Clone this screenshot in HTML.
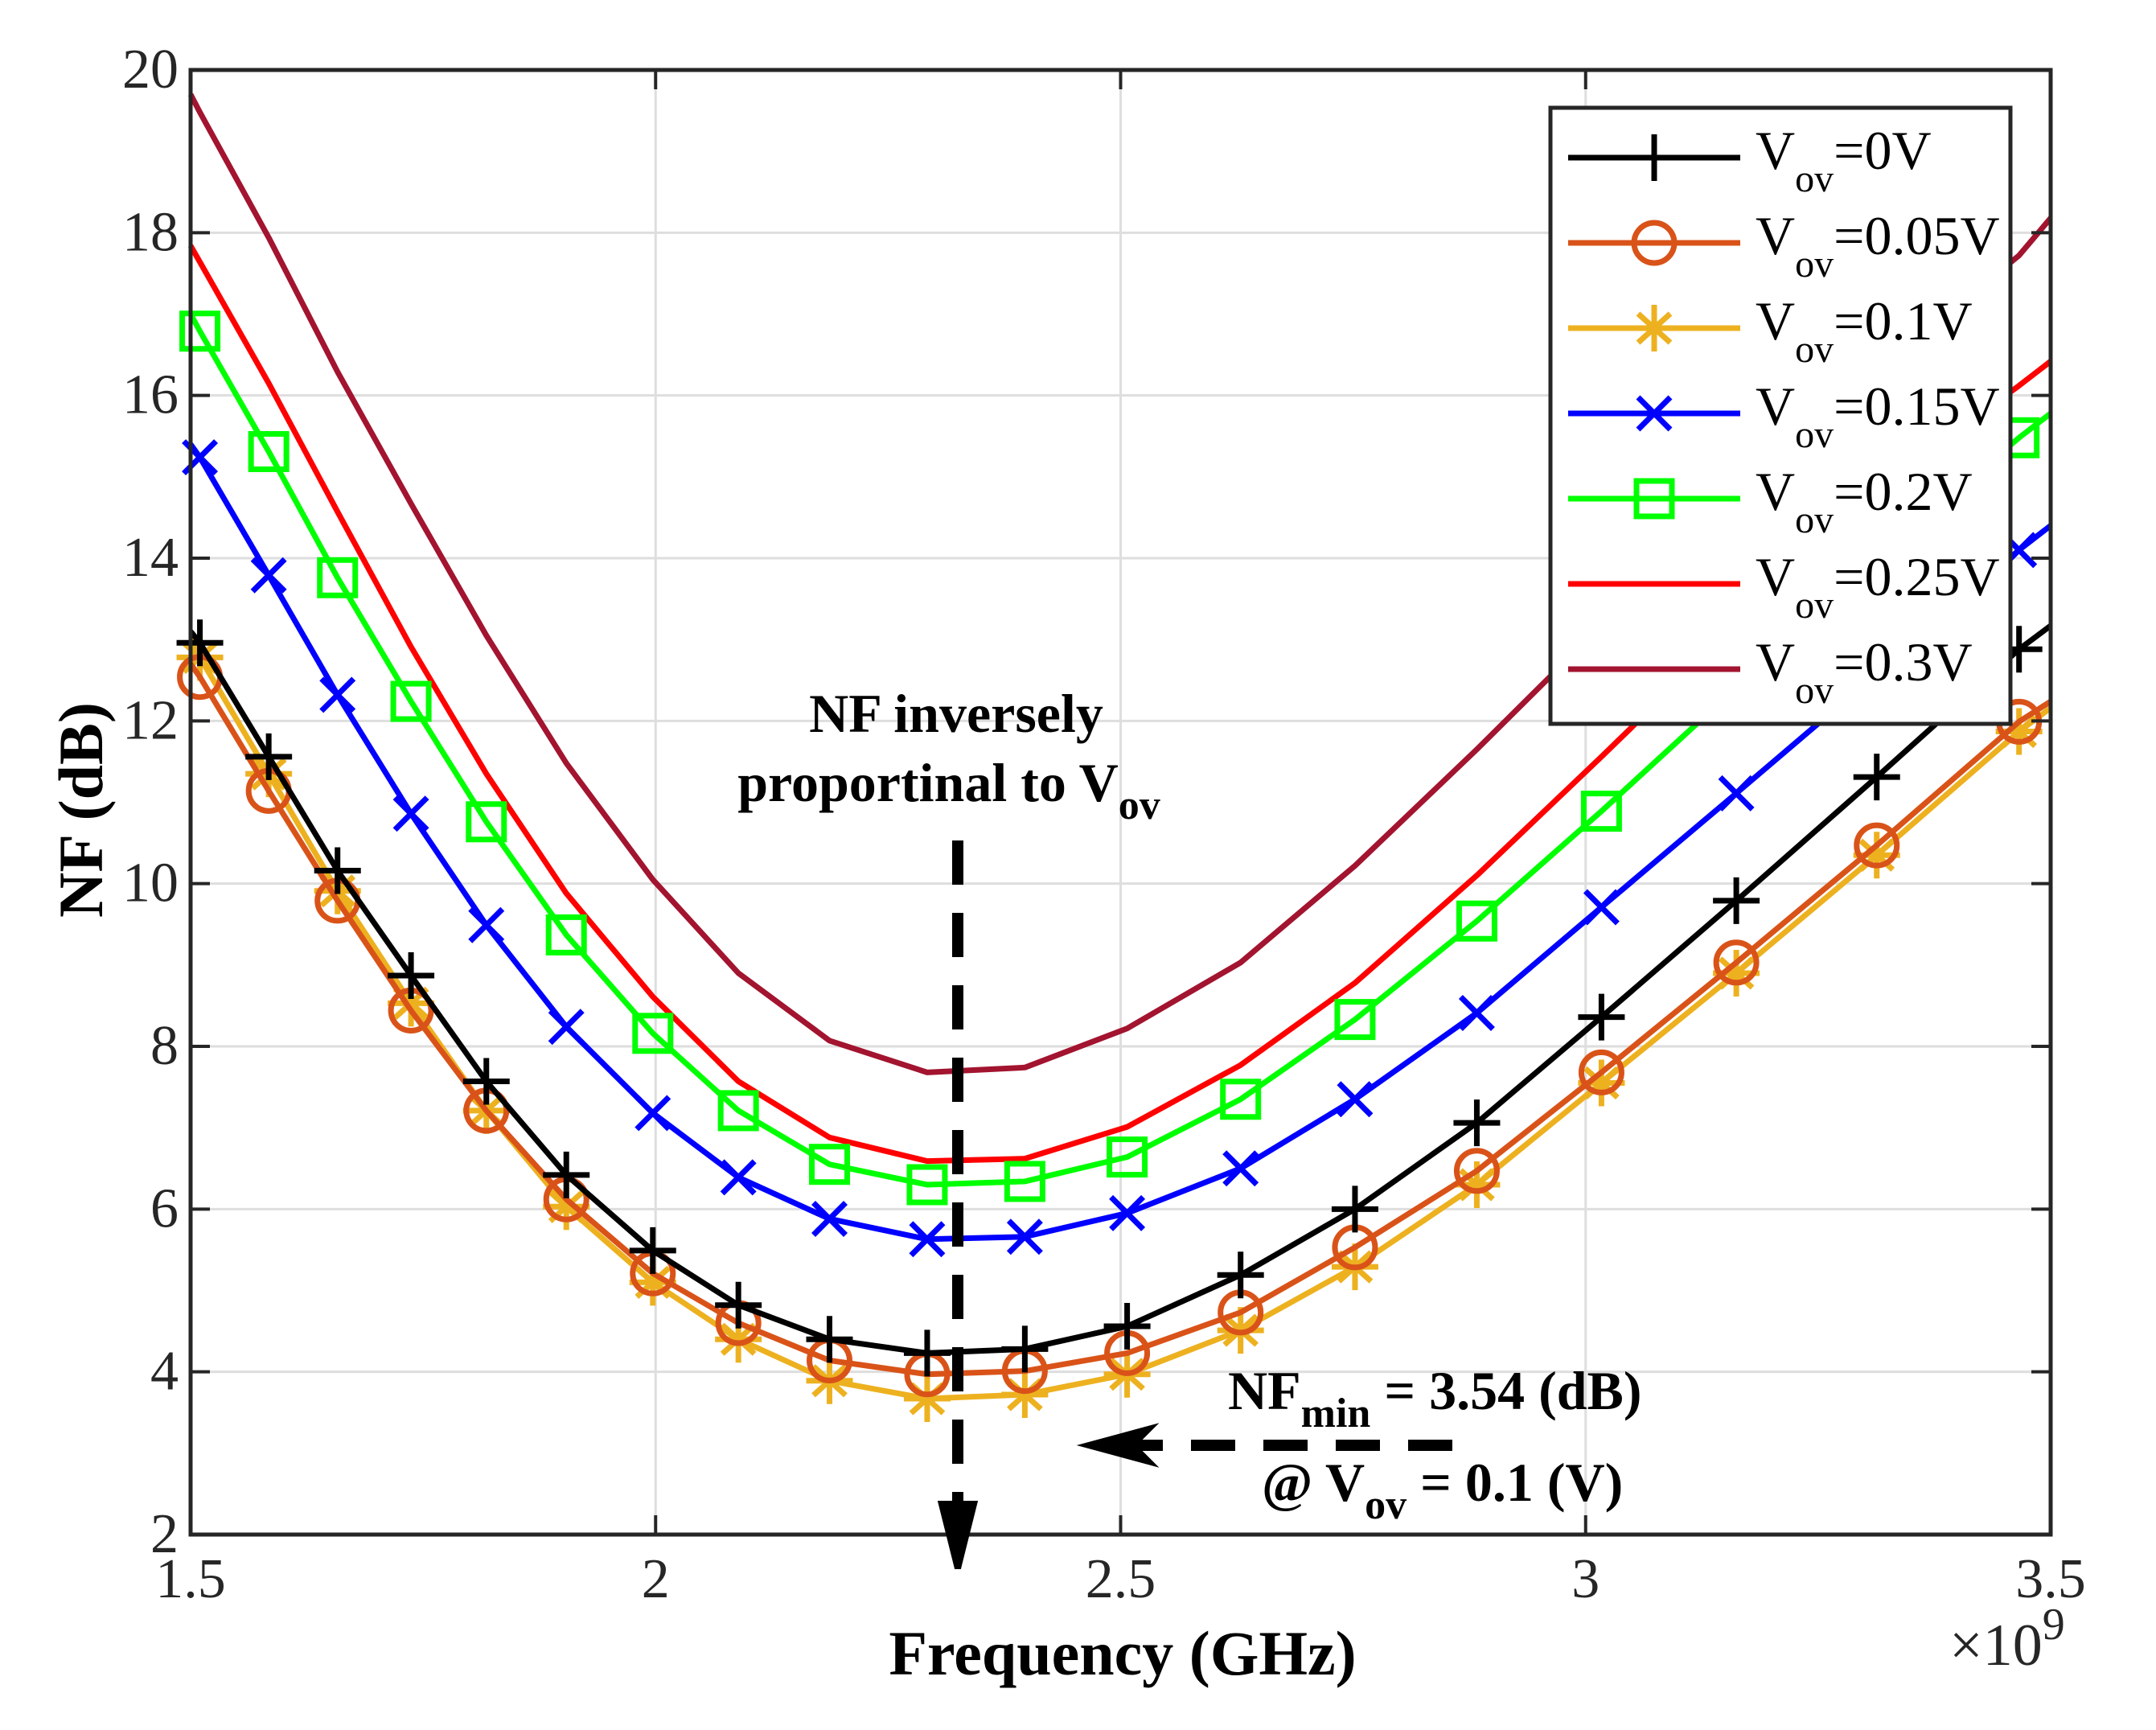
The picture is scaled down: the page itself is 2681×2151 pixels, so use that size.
<!DOCTYPE html>
<html><head><meta charset="utf-8">
<style>
html,body{margin:0;padding:0;background:#fff;}
svg{display:block;font-family:"Liberation Serif",serif;}
</style></head>
<body>
<svg id="chart" width="2681" height="2151" viewBox="0 0 2681 2151" xmlns="http://www.w3.org/2000/svg">
<rect x="0" y="0" width="2681" height="2151" fill="#fff"/>
<g id="grid"></g>
<g id="series"></g>
<g id="axes"></g>
<g id="annot"></g>
<g id="legend"></g>
</svg>
<script>
const freqs = [1.5,1.510,1.584,1.658,1.737,1.818,1.904,1.997,2.089,2.187,2.292,2.397,2.507,2.629,2.752,2.883,3.017,3.162,3.313,3.466,3.5];
const nf0   = [13.1,12.96,11.56,10.16,8.87,7.57,6.42,5.49,4.82,4.40,4.23,4.28,4.56,5.19,6.00,7.06,8.36,9.79,11.31,12.88,13.17];
const nf005 = [12.7,12.54,11.14,9.79,8.44,7.21,6.12,5.21,4.60,4.14,3.97,4.01,4.23,4.73,5.53,6.47,7.68,9.03,10.47,11.99,12.24];
const nf01  = [13.0,12.78,11.35,9.91,8.53,7.21,6.03,5.10,4.40,3.89,3.67,3.72,3.97,4.51,5.29,6.30,7.55,8.90,10.35,11.87,12.16];
const nf015 = [15.4,15.24,13.79,12.32,10.86,9.49,8.24,7.18,6.39,5.88,5.63,5.66,5.95,6.50,7.35,8.41,9.71,11.11,12.58,14.10,14.40];
const nf02  = [17.0,16.79,15.31,13.76,12.24,10.76,9.37,8.16,7.21,6.55,6.30,6.34,6.64,7.35,8.33,9.54,10.89,12.41,14.01,15.48,15.78];
const nf025 = [17.84,17.64,16.15,14.57,12.91,11.35,9.88,8.61,7.57,6.88,6.59,6.62,7.01,7.77,8.78,10.10,11.56,13.17,14.85,16.12,16.42];
const nf03  = [19.70,19.48,17.94,16.29,14.67,13.05,11.48,10.05,8.90,8.07,7.68,7.74,8.22,9.03,10.22,11.65,13.17,14.69,16.29,17.72,18.18];
const xTicks = [1.5,2,2.5,3,3.5];
const xTickLabels = ["1.5","2","2.5","3","3.5"];
const yTicks = [2,4,6,8,10,12,14,16,18,20];
const yTickLabels = ["2","4","6","8","10","12","14","16","18","20"];
const seriesLabels = ["0V","0.05V","0.1V","0.15V","0.2V","0.25V","0.3V"];

const L=237,R=2550,T=87,B=1908;
const NS="http://www.w3.org/2000/svg";
function sx(f){return L+(f-1.5)/2*(R-L);}
function sy(v){return B-(v-2)/18*(B-T);}
function mk(tag,attrs,parent){const e=document.createElementNS(NS,tag);for(const k in attrs)e.setAttribute(k,attrs[k]);parent.appendChild(e);return e;}

const grid=document.getElementById('grid');
xTicks.forEach(t=>{const l=mk('line',{x1:sx(t),x2:sx(t),y1:T,y2:B,stroke:'#dedede','stroke-width':3},grid);

});
yTicks.forEach(t=>{const l=mk('line',{x1:L,x2:R,y1:sy(t),y2:sy(t),stroke:'#dedede','stroke-width':3},grid);

});

const seriesDefs=[
 {data:nf0,color:'#000000',marker:'plus',name:'series-vov-0'},
 {data:nf005,color:'#d95319',marker:'circle',name:'series-vov-0-05'},
 {data:nf01,color:'#edb120',marker:'star',name:'series-vov-0-1'},
 {data:nf015,color:'#0000ff',marker:'x',name:'series-vov-0-15'},
 {data:nf02,color:'#00ff00',marker:'square',name:'series-vov-0-2'},
 {data:nf025,color:'#ff0000',marker:null,name:'series-vov-0-25'},
 {data:nf03,color:'#a2142f',marker:null,name:'series-vov-0-3'}
];
function drawMarker(type,x,y,color,parent){
  const g=mk('g',{stroke:color,'stroke-width':7,fill:'none'},parent);
  const s=29;
  if(type==='plus'){mk('path',{d:`M${x-s} ${y}H${x+s}M${x} ${y-s}V${y+s}`},g);}
  else if(type==='circle'){mk('ellipse',{cx:x,cy:y,rx:25,ry:25},g);}
  else if(type==='star'){mk('path',{d:`M${x-s} ${y}H${x+s}M${x} ${y-s}V${y+s}M${x-20} ${y-18}L${x+20} ${y+18}M${x-20} ${y+18}L${x+20} ${y-18}`},g);}
  else if(type==='x'){mk('path',{d:`M${x-20} ${y-20}L${x+20} ${y+20}M${x-20} ${y+20}L${x+20} ${y-20}`},g);}
  else if(type==='square'){mk('rect',{x:x-22,y:y-22,width:44,height:44},g);}
  return g;
}
const sg=document.getElementById('series');
seriesDefs.slice().reverse().forEach(sd=>{
  const g=mk('g',{},sg);
  
  
  const pts=freqs.map((f,i)=>sx(f)+','+sy(sd.data[i])).join(' ');
  const pl=mk('polyline',{points:pts,fill:'none',stroke:sd.color,'stroke-width':7,'stroke-linejoin':'round'},g);
  
  
  if(sd.marker){for(let i=1;i<freqs.length-1;i++){
    const m=drawMarker(sd.marker,sx(freqs[i]),sy(sd.data[i]),sd.color,g);
    
    
  }}
});

const ax=document.getElementById('axes');
const frame=mk('rect',{x:L,y:T,width:R-L,height:B-T,fill:'none',stroke:'#262626','stroke-width':5},ax);


xTicks.forEach((t,i)=>{
  mk('line',{x1:sx(t),x2:sx(t),y1:B,y2:B-24,stroke:'#262626','stroke-width':4},ax);
  mk('line',{x1:sx(t),x2:sx(t),y1:T,y2:T+24,stroke:'#262626','stroke-width':4},ax);
  const tx=mk('text',{x:sx(t),y:1986,'text-anchor':'middle','font-size':70,fill:'#262626'},ax);
  tx.textContent=xTickLabels[i];
  
  
});
yTicks.forEach((t,i)=>{
  mk('line',{x1:L,x2:L+24,y1:sy(t),y2:sy(t),stroke:'#262626','stroke-width':4},ax);
  mk('line',{x1:R,x2:R-24,y1:sy(t),y2:sy(t),stroke:'#262626','stroke-width':4},ax);
  const tx=mk('text',{x:222,y:sy(t)+22,'text-anchor':'end','font-size':70,fill:'#262626'},ax);
  tx.textContent=yTickLabels[i];
  
  
});
</script>
<script>
(function(){
const NS="http://www.w3.org/2000/svg";
const ax=document.getElementById('axes');
function add(html,parent){const g=document.createElementNS(NS,'g');g.innerHTML=html;parent.appendChild(g);return g;}
add(`<text x="2424" y="2070" font-size="74" fill="#262626">×10<tspan dy="-32" font-size="56">9</tspan></text>
<text x="1396" y="2082" text-anchor="middle" font-size="78" font-weight="bold" fill="#000">Frequency (GHz)</text>
<text transform="translate(127,1007) rotate(-90)" text-anchor="middle" font-size="78" font-weight="bold" fill="#000">NF (dB)</text>`,ax);

const an=document.getElementById('annot');
add(`<text x="1189" y="910" text-anchor="middle" font-size="68" font-weight="bold">NF inversely</text>
<text x="1180" y="996" text-anchor="middle" font-size="68" font-weight="bold">proportinal to V<tspan dy="22" font-size="52">ov</tspan></text>
<line x1="1191" y1="1045" x2="1191" y2="1870" stroke="#000" stroke-width="14" stroke-dasharray="55,35"/>
<path d="M1171 1870 L1191 1950 L1211 1870 Z" fill="#000" stroke="#000" stroke-width="8"/>
<line x1="1806" y1="1797" x2="1400" y2="1797" stroke="#000" stroke-width="14" stroke-dasharray="55,35"/>
<path d="M1428 1777 L1354 1797 L1428 1817 L1408 1797 Z" fill="#000" stroke="#000" stroke-width="8"/>
<text x="1527" y="1752" font-size="68" font-weight="bold">NF<tspan dy="22" font-size="52">min</tspan><tspan dy="-22"> = 3.54 (dB)</tspan></text>
<text x="1569" y="1866" font-size="68" font-weight="bold">@ V<tspan dy="22" font-size="52">ov</tspan><tspan dy="-22"> = 0.1 (V)</tspan></text>`,an);

const lg=document.getElementById('legend');
const colors=['#000000','#d95319','#edb120','#0000ff','#00ff00','#ff0000','#a2142f'];
const markers=['plus','circle','star','x','square',null,null];
const labels=["0V","0.05V","0.1V","0.15V","0.2V","0.25V","0.3V"];
let h=`<rect x="1928" y="134" width="572" height="766" fill="#fff" stroke="#262626" stroke-width="5"/>`;
for(let i=0;i<7;i++){
  const y=196+i*106, c=colors[i], mx=2057;
  let m='';
  if(markers[i]==='plus')m=`<path d="M${mx-29} ${y}H${mx+29}M${mx} ${y-29}V${y+29}" stroke="${c}" stroke-width="7"/>`;
  if(markers[i]==='circle')m=`<ellipse cx="${mx}" cy="${y}" rx="25" ry="25" fill="none" stroke="${c}" stroke-width="7"/>`;
  if(markers[i]==='star')m=`<path d="M${mx-29} ${y}H${mx+29}M${mx} ${y-29}V${y+29}M${mx-20} ${y-18}L${mx+20} ${y+18}M${mx-20} ${y+18}L${mx+20} ${y-18}" stroke="${c}" stroke-width="7"/>`;
  if(markers[i]==='x')m=`<path d="M${mx-20} ${y-20}L${mx+20} ${y+20}M${mx-20} ${y+20}L${mx+20} ${y-20}" stroke="${c}" stroke-width="7"/>`;
  if(markers[i]==='square')m=`<rect x="${mx-22}" y="${y-22}" width="44" height="44" fill="none" stroke="${c}" stroke-width="7"/>`;
  h+=`<g><line x1="1950" x2="2164" y1="${y}" y2="${y}" stroke="${c}" stroke-width="7"/>${m}<text x="2183" y="${y+14}" font-size="68" fill="#000">V<tspan dy="28" font-size="48">ov</tspan><tspan dy="-28">=${labels[i]}</tspan></text></g>`;
}
add(h,lg);
})();
</script>
</body></html>
